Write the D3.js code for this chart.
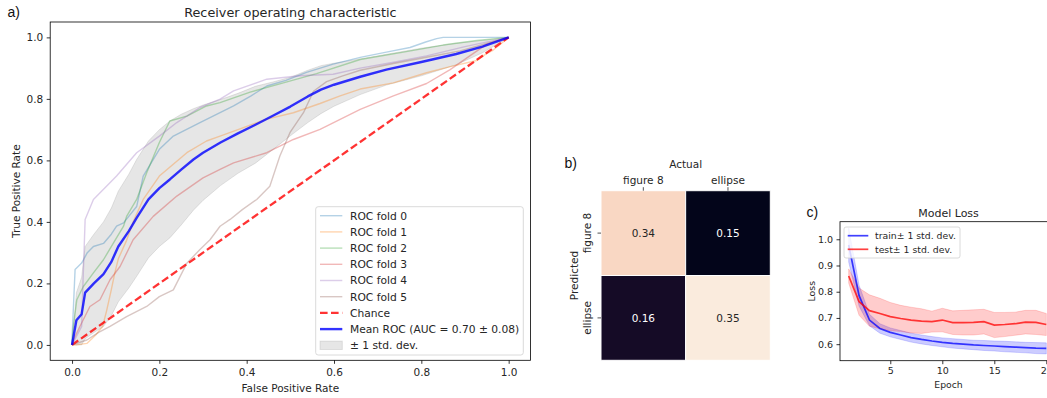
<!DOCTYPE html>
<html>
<head>
<meta charset="utf-8">
<script src="https://cdn.jsdelivr.net/npm/d3@7/dist/d3.min.js"></script>
<style>
  body { margin: 0; background: #fff; }
  svg text { font-family: "DejaVu Sans", sans-serif; fill: #262626; }
  .panel-tag { font-family: "Liberation Sans", Arial, sans-serif !important; fill: #111 !important; }
</style>
</head>
<body>
<svg id="fig" width="1047" height="398"></svg>
<script>
// ---- a) ROC data (read off the picture) ----
const fold0Fpr = [0, 0, 0.007, 0.022, 0.035, 0.049, 0.072, 0.09, 0.102, 0.118, 0.148, 0.163, 0.2, 0.232, 0.293, 0.339, 0.37, 0.41, 0.446, 0.49, 0.537, 0.598, 0.66, 0.72, 0.774, 0.81, 0.835, 0.85, 1];
const fold0Tpr = [0, 0.02, 0.245, 0.266, 0.30, 0.32, 0.33, 0.36, 0.386, 0.397, 0.45, 0.549, 0.636, 0.679, 0.723, 0.755, 0.777, 0.81, 0.842, 0.86, 0.886, 0.913, 0.935, 0.952, 0.967, 0.985, 0.996, 1, 1];
const fold1Fpr = [0, 0.01, 0.034, 0.056, 0.07, 0.079, 0.09, 0.098, 0.106, 0.125, 0.14, 0.163, 0.2, 0.263, 0.308, 0.339, 0.38, 0.446, 0.507, 0.568, 0.614, 0.66, 0.736, 0.812, 0.866, 0.927, 0.95, 0.964, 1];
const fold1Tpr = [0, 0, 0.005, 0.035, 0.06, 0.11, 0.18, 0.234, 0.28, 0.34, 0.40, 0.473, 0.549, 0.625, 0.663, 0.679, 0.70, 0.734, 0.755, 0.785, 0.81, 0.832, 0.852, 0.885, 0.905, 0.925, 0.948, 0.958, 1];
const fold2Fpr = [0, 0.003, 0.011, 0.026, 0.049, 0.072, 0.095, 0.118, 0.125, 0.148, 0.171, 0.2, 0.224, 0.263, 0.308, 0.339, 0.408, 0.484, 0.56, 0.66, 0.759, 0.85, 0.927, 1];
const fold2Tpr = [0, 0.06, 0.147, 0.19, 0.234, 0.277, 0.332, 0.386, 0.418, 0.473, 0.56, 0.658, 0.728, 0.744, 0.777, 0.788, 0.822, 0.852, 0.882, 0.928, 0.952, 0.975, 0.99, 1];
const fold3Fpr = [0, 0.003, 0.018, 0.041, 0.064, 0.087, 0.11, 0.14, 0.186, 0.24, 0.3, 0.339, 0.37, 0.446, 0.507, 0.568, 0.66, 0.736, 0.812, 0.866, 0.911, 0.95, 1];
const fold3Tpr = [0, 0.016, 0.06, 0.125, 0.147, 0.212, 0.255, 0.342, 0.418, 0.484, 0.543, 0.571, 0.592, 0.625, 0.668, 0.701, 0.766, 0.81, 0.85, 0.895, 0.94, 0.978, 1];
const fold4Fpr = [0, 0.022, 0.025, 0.03, 0.049, 0.075, 0.102, 0.148, 0.2, 0.24, 0.293, 0.339, 0.37, 0.446, 0.522, 0.598, 0.66, 0.74, 0.812, 0.9, 1];
const fold4Tpr = [0, 0.06, 0.2, 0.408, 0.473, 0.51, 0.549, 0.625, 0.679, 0.723, 0.772, 0.799, 0.826, 0.864, 0.875, 0.88, 0.9, 0.92, 0.94, 0.97, 1];
const fold5Fpr = [0, 0.034, 0.06, 0.087, 0.125, 0.171, 0.2, 0.232, 0.263, 0.293, 0.316, 0.339, 0.362, 0.39, 0.423, 0.453, 0.476, 0.499, 0.53, 0.553, 0.583, 0.62, 0.66, 0.736, 0.8, 0.889, 0.95, 1];
const fold5Tpr = [0, 0.016, 0.04, 0.06, 0.092, 0.125, 0.157, 0.179, 0.266, 0.31, 0.342, 0.386, 0.408, 0.44, 0.473, 0.516, 0.614, 0.69, 0.755, 0.825, 0.856, 0.875, 0.893, 0.915, 0.932, 0.956, 0.98, 1];

const meanFpr = [0, 0.01, 0.022, 0.03, 0.05, 0.072, 0.09, 0.106, 0.13, 0.148, 0.175, 0.2, 0.224, 0.25, 0.278, 0.3, 0.34, 0.38, 0.42, 0.46, 0.5, 0.54, 0.57, 0.6, 0.66, 0.72, 0.8, 0.88, 0.94, 1];
const meanTpr = [0, 0.08, 0.1, 0.17, 0.2, 0.23, 0.27, 0.32, 0.37, 0.413, 0.473, 0.51, 0.538, 0.57, 0.603, 0.625, 0.658, 0.688, 0.716, 0.745, 0.775, 0.808, 0.83, 0.846, 0.872, 0.895, 0.92, 0.946, 0.97, 1];
const stdTpr  = [0, 0.09, 0.12, 0.15, 0.16, 0.17, 0.175, 0.18, 0.185, 0.19, 0.19, 0.19, 0.19, 0.18, 0.165, 0.155, 0.14, 0.13, 0.125, 0.11, 0.095, 0.085, 0.078, 0.07, 0.058, 0.05, 0.045, 0.035, 0.02, 0];

const foldLabels = ["ROC fold 0", "ROC fold 1", "ROC fold 2", "ROC fold 3", "ROC fold 4", "ROC fold 5"];
const foldColors = ["#1f77b4", "#ff7f0e", "#2ca02c", "#d62728", "#9467bd", "#8c564b"];
const rocTicks = [0, 0.2, 0.4, 0.6, 0.8, 1.0];

// ---- b) confusion matrix ----
const cmActual = ["figure 8", "ellipse"];
const cmPredicted = ["figure 8", "ellipse"];
const cmValues = [[0.34, 0.15], [0.16, 0.35]];   // rows = predicted, cols = actual
const rocketStops = ["#03051a", "#4c1d4b", "#a11a5b", "#e83f3f", "#f69c73", "#faebdd"];

// ---- c) model loss ----
const epochs    = [1, 2, 3, 4, 5, 6, 7, 8, 9, 10, 11, 12, 13, 14, 15, 16, 17, 18, 19, 20];
const trainLoss = [0.978, 0.785, 0.692, 0.66, 0.645, 0.635, 0.625, 0.618, 0.612, 0.607, 0.603, 0.600, 0.597, 0.595, 0.593, 0.591, 0.589, 0.587, 0.585, 0.584];
const trainStd  = [0.065, 0.04, 0.022, 0.018, 0.017, 0.017, 0.017, 0.017, 0.017, 0.017, 0.018, 0.018, 0.018, 0.019, 0.019, 0.02, 0.02, 0.02, 0.021, 0.021];
const testLoss  = [0.86, 0.762, 0.728, 0.717, 0.705, 0.698, 0.692, 0.688, 0.686, 0.692, 0.682, 0.682, 0.683, 0.686, 0.673, 0.675, 0.678, 0.684, 0.683, 0.675];
const testStd   = [0.027, 0.052, 0.06, 0.058, 0.054, 0.05, 0.049, 0.047, 0.04, 0.045, 0.045, 0.047, 0.048, 0.047, 0.048, 0.046, 0.044, 0.045, 0.046, 0.042];
const lossXTicks = [5, 10, 15, 20];
const lossYTicks = [0.6, 0.7, 0.8, 0.9, 1.0];

const svg = d3.select("#fig");

// ================= a) ROC =================
const rocBox = { left: 50.2, right: 530.5, top: 22, bottom: 360.3 };
const x = d3.scaleLinear().domain([-0.05, 1.05]).range([rocBox.left, rocBox.right]);
const y = d3.scaleLinear().domain([-0.05, 1.05]).range([rocBox.bottom, rocBox.top]);

const gRoc = svg.append("g");

// std band first (collections sit under lines)
const band = meanFpr.map((f, i) => ({ f: f, lo: Math.max(meanTpr[i] - stdTpr[i], 0), hi: Math.min(meanTpr[i] + stdTpr[i], 1) }));
gRoc.append("path")
  .datum(band)
  .attr("d", d3.area().x(d => x(d.f)).y0(d => y(d.lo)).y1(d => y(d.hi)))
  .attr("fill", "#808080").attr("fill-opacity", 0.2)
  .attr("stroke", "#808080").attr("stroke-opacity", 0.2).attr("stroke-width", 1);

const folds = [[fold0Fpr, fold0Tpr], [fold1Fpr, fold1Tpr], [fold2Fpr, fold2Tpr],
               [fold3Fpr, fold3Tpr], [fold4Fpr, fold4Tpr], [fold5Fpr, fold5Tpr]];
const rocLine = d3.line().x(d => x(d[0])).y(d => y(d[1]));

folds.forEach((fold, i) => {
  gRoc.append("path")
    .datum(fold[0].map((f, j) => [f, fold[1][j]]))
    .attr("d", rocLine)
    .attr("fill", "none")
    .attr("stroke", foldColors[i]).attr("stroke-opacity", 0.33).attr("stroke-width", 1.4)
    .attr("stroke-linejoin", "round");
});

// chance line
gRoc.append("path")
  .datum([[0, 0], [1, 1]])
  .attr("d", rocLine)
  .attr("fill", "none")
  .attr("stroke", "#ff0000").attr("stroke-opacity", 0.8).attr("stroke-width", 2.3)
  .attr("stroke-dasharray", "7.6,3.4");

// mean ROC
gRoc.append("path")
  .datum(meanFpr.map((f, i) => [f, meanTpr[i]]))
  .attr("d", rocLine)
  .attr("fill", "none")
  .attr("stroke", "#0000ff").attr("stroke-opacity", 0.8).attr("stroke-width", 2.4)
  .attr("stroke-linejoin", "round");

// axes
const fmt1 = d3.format(".1f");
const xAxis = gRoc.append("g")
  .attr("transform", `translate(0,${rocBox.bottom})`)
  .call(d3.axisBottom(x).tickValues(rocTicks).tickFormat(fmt1).tickSize(3.5).tickPadding(5));
const yAxis = gRoc.append("g")
  .attr("transform", `translate(${rocBox.left},0)`)
  .call(d3.axisLeft(y).tickValues(rocTicks).tickFormat(fmt1).tickSize(3.5).tickPadding(3.5));
[xAxis, yAxis].forEach(a => {
  a.select(".domain").remove();
  a.selectAll("line").attr("stroke", "#000").attr("stroke-width", 0.8);
  a.selectAll("text").attr("font-size", 10.5).attr("font-family", null);
});

gRoc.append("rect")
  .attr("x", rocBox.left).attr("y", rocBox.top)
  .attr("width", rocBox.right - rocBox.left).attr("height", rocBox.bottom - rocBox.top)
  .attr("fill", "none").attr("stroke", "#000").attr("stroke-width", 0.8);

gRoc.append("text").attr("x", (rocBox.left + rocBox.right) / 2).attr("y", 16.5)
  .attr("text-anchor", "middle").attr("font-size", 12.8).text("Receiver operating characteristic");
gRoc.append("text").attr("x", (rocBox.left + rocBox.right) / 2).attr("y", 392)
  .attr("text-anchor", "middle").attr("font-size", 10.5).text("False Positive Rate");
gRoc.append("text")
  .attr("transform", `translate(19.5,${(rocBox.top + rocBox.bottom) / 2}) rotate(-90)`)
  .attr("text-anchor", "middle").attr("font-size", 10.5).text("True Positive Rate");
svg.append("text").attr("class", "panel-tag").attr("x", 7.5).attr("y", 17)
  .attr("font-size", 14).text("a)");

// legend
const leg = gRoc.append("g");
leg.append("rect")
  .attr("x", 315.7).attr("y", 206.7).attr("width", 207.6).attr("height", 148.3)
  .attr("rx", 2.5).attr("fill", "#fff").attr("fill-opacity", 0.8)
  .attr("stroke", "#d0d0d0").attr("stroke-width", 0.8);
const legRows = foldLabels.map((l, i) => ({ label: l, kind: "fold", color: foldColors[i] }))
  .concat([{ label: "Chance", kind: "chance" },
           { label: "Mean ROC (AUC = 0.70 \u00b1 0.08)", kind: "mean" },
           { label: "\u00b1 1 std. dev.", kind: "band" }]);
legRows.forEach((r, i) => {
  const cy = 215.7 + i * 16.2;
  if (r.kind === "band") {
    leg.append("rect").attr("x", 320).attr("y", cy - 4.2).attr("width", 22.3).attr("height", 8.4)
      .attr("fill", "#808080").attr("fill-opacity", 0.2).attr("stroke", "#808080").attr("stroke-opacity", 0.2);
  } else {
    const ln = leg.append("line").attr("x1", 320).attr("x2", 342.3).attr("y1", cy).attr("y2", cy);
    if (r.kind === "fold") ln.attr("stroke", r.color).attr("stroke-opacity", 0.33).attr("stroke-width", 1.4);
    if (r.kind === "chance") ln.attr("stroke", "#ff0000").attr("stroke-opacity", 0.8).attr("stroke-width", 2.3).attr("stroke-dasharray", "7.6,3.4");
    if (r.kind === "mean") ln.attr("stroke", "#0000ff").attr("stroke-opacity", 0.8).attr("stroke-width", 2.4);
  }
  leg.append("text").attr("x", 350).attr("y", cy).attr("dy", "0.36em")
    .attr("font-size", 10.7).text(r.label);
});

// ================= b) confusion matrix =================
const cmBox = { left: 601, right: 770.3, top: 190.7, bottom: 360.3 };
const cx = d3.scaleBand().domain(cmActual).range([cmBox.left, cmBox.right]);
const cy = d3.scaleBand().domain(cmPredicted).range([cmBox.top, cmBox.bottom]);
const cmColor = d3.scaleSequential(d3.piecewise(d3.interpolateRgb, rocketStops)).domain([0.15, 0.35]);

const gCm = svg.append("g");
const cells = [];
cmPredicted.forEach((p, r) => cmActual.forEach((a, c) => cells.push({ p: p, a: a, v: cmValues[r][c] })));

gCm.selectAll("rect.cell").data(cells).join("rect").attr("class", "cell")
  .attr("x", d => cx(d.a)).attr("y", d => cy(d.p))
  .attr("width", cx.bandwidth()).attr("height", cy.bandwidth())
  .attr("fill", d => cmColor(d.v))
  .attr("stroke", "#fff").attr("stroke-width", 1);

gCm.selectAll("text.ann").data(cells).join("text").attr("class", "ann")
  .attr("x", d => cx(d.a) + cx.bandwidth() / 2).attr("y", d => cy(d.p) + cy.bandwidth() / 2)
  .attr("dy", "0.36em").attr("text-anchor", "middle").attr("font-size", 10.5)
  .style("fill", d => d3.hsl(cmColor(d.v)).l > 0.5 ? "#262626" : "#ffffff")
  .text(d => d3.format(".2f")(d.v));

const topAx = gCm.append("g").attr("transform", `translate(0,${cmBox.top})`)
  .call(d3.axisTop(cx).tickSize(3.5).tickPadding(3));
const leftAx = gCm.append("g").attr("transform", `translate(${cmBox.left},0)`)
  .call(d3.axisLeft(cy).tickSize(3.5).tickFormat(""));
[topAx, leftAx].forEach(a => {
  a.select(".domain").remove();
  a.selectAll("line").attr("stroke", "#262626").attr("stroke-width", 0.8);
  a.selectAll("text").attr("font-size", 10.5).attr("font-family", null);
});
leftAx.selectAll(".tick").append("text")
  .attr("transform", "translate(-10,0) rotate(-90)")
  .attr("text-anchor", "middle").attr("font-size", 10.5).style("fill", "#262626")
  .text(d => d);

gCm.append("text").attr("x", (cmBox.left + cmBox.right) / 2).attr("y", 168)
  .attr("text-anchor", "middle").attr("font-size", 10.5).text("Actual");
gCm.append("text")
  .attr("transform", `translate(577.5,${(cmBox.top + cmBox.bottom) / 2}) rotate(-90)`)
  .attr("text-anchor", "middle").attr("font-size", 10.5).text("Predicted");
svg.append("text").attr("class", "panel-tag").attr("x", 564.5).attr("y", 168)
  .attr("font-size", 14).text("b)");

// ================= c) model loss =================
const lossBox = { left: 840, right: 1057, top: 221.7, bottom: 360.7 };
const lx = d3.scaleLinear().domain([0.05, 20.95]).range([838.8, 1056.2]);
const ly = d3.scaleLinear().domain([0.537, 1.067]).range([lossBox.bottom, lossBox.top]);

const gLoss = svg.append("g");
const lossSeries = [
  { mean: trainLoss, sd: trainStd, color: "#0000ff", label: "train\u00b1 1 std. dev." },
  { mean: testLoss, sd: testStd, color: "#ff0000", label: "test\u00b1 1 std. dev." }
];
lossSeries.forEach(s => {
  const pts = epochs.map((e, i) => ({ e: e, m: s.mean[i], lo: s.mean[i] - s.sd[i], hi: s.mean[i] + s.sd[i] }));
  gLoss.append("path").datum(pts)
    .attr("d", d3.area().x(d => lx(d.e)).y0(d => ly(d.lo)).y1(d => ly(d.hi)))
    .attr("fill", s.color).attr("fill-opacity", 0.2)
    .attr("stroke", s.color).attr("stroke-opacity", 0.2).attr("stroke-width", 0.8);
});
lossSeries.forEach(s => {
  gLoss.append("path").datum(epochs.map((e, i) => [e, s.mean[i]]))
    .attr("d", d3.line().x(d => lx(d[0])).y(d => ly(d[1])))
    .attr("fill", "none").attr("stroke", s.color).attr("stroke-opacity", 0.75).attr("stroke-width", 1.7);
});

const lxAxis = gLoss.append("g").attr("transform", `translate(0,${lossBox.bottom})`)
  .call(d3.axisBottom(lx).tickValues(lossXTicks).tickFormat(d3.format("d")).tickSize(3.5).tickPadding(3.5));
const lyAxis = gLoss.append("g").attr("transform", `translate(${lossBox.left},0)`)
  .call(d3.axisLeft(ly).tickValues(lossYTicks).tickFormat(fmt1).tickSize(3.5).tickPadding(3.5));
[lxAxis, lyAxis].forEach(a => {
  a.select(".domain").remove();
  a.selectAll("line").attr("stroke", "#000").attr("stroke-width", 0.8);
  a.selectAll("text").attr("font-size", 9.5).attr("font-family", null);
});
gLoss.append("rect")
  .attr("x", lossBox.left).attr("y", lossBox.top)
  .attr("width", lossBox.right - lossBox.left).attr("height", lossBox.bottom - lossBox.top)
  .attr("fill", "none").attr("stroke", "#000").attr("stroke-width", 0.8);

gLoss.append("text").attr("x", (lossBox.left + lossBox.right) / 2).attr("y", 217)
  .attr("text-anchor", "middle").attr("font-size", 11).text("Model Loss");
gLoss.append("text").attr("x", (lossBox.left + lossBox.right) / 2).attr("y", 388)
  .attr("text-anchor", "middle").attr("font-size", 9.3).text("Epoch");
gLoss.append("text")
  .attr("transform", `translate(815,${(lossBox.top + lossBox.bottom) / 2}) rotate(-90)`)
  .attr("text-anchor", "middle").attr("font-size", 9.3).text("Loss");
svg.append("text").attr("class", "panel-tag").attr("x", 806.5).attr("y", 216.5)
  .attr("font-size", 14).text("c)");

const lleg = gLoss.append("g");
lleg.append("rect").attr("x", 844).attr("y", 227).attr("width", 116).attr("height", 31)
  .attr("rx", 2).attr("fill", "#fff").attr("fill-opacity", 0.8)
  .attr("stroke", "#d0d0d0").attr("stroke-width", 0.8);
lossSeries.forEach((s, i) => {
  const yy = 235.7 + i * 13.6;
  lleg.append("line").attr("x1", 847.7).attr("x2", 868.3).attr("y1", yy).attr("y2", yy)
    .attr("stroke", s.color).attr("stroke-opacity", 0.75).attr("stroke-width", 1.7);
  lleg.append("text").attr("x", 875).attr("y", yy).attr("dy", "0.36em")
    .attr("font-size", 9.3).text(s.label);
});
</script>
</body>
</html>
